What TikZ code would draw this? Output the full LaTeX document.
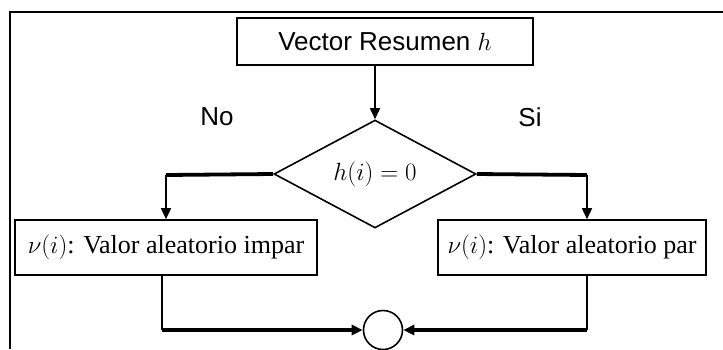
\documentclass[tikz,border=0pt]{standalone}
\usepackage{fontspec}
\setmainfont{Liberation Serif}
\newfontfamily\sansf{Liberation Sans}
\usetikzlibrary{arrows.meta,positioning,shapes.geometric,calc}

\begin{document}
\begin{tikzpicture}[
  x=1pt, y=-1pt,
  every node/.style={font=\fontsize{26}{30}\selectfont},
  box/.style={draw, line width=1.6pt, inner sep=0pt, minimum height=55pt},
  thin/.style={line width=1.6pt},
  heavy/.style={line width=3.8pt},
  >={Triangle[length=11pt,width=10pt]}
]
  \useasboundingbox (0,0) rectangle (723,349);

  % frame
  \draw[line width=2pt] (10,349) -- (10,12) -- (723,12);

  \node[box, minimum width=296pt, minimum height=47pt] (resumen) at (385,41.5)
    {\sansf Vector Resumen $h$};
  \node[draw, diamond, thin, inner sep=0pt, minimum width=202pt, minimum height=92pt]
    (cond) at (375,174) {$h(i)=0$};
  \node[box, minimum width=302pt] (impar) at (166,247.5)
    {$\nu(i)$: Valor aleatorio impar};
  \node[box, minimum width=268pt] (par) at (572,247.5)
    {$\nu(i)$: Valor aleatorio par};
  \node[draw, circle, thin, minimum size=39pt, inner sep=0pt] (join) at (383,330) {};

  \node[font=\sansf\fontsize{26}{30}\selectfont] (no) at (217,117) {No};
  \node[font=\sansf\fontsize{26}{30}\selectfont] (si) at (530,117) {Si};

  \coordinate (nocorner) at (166,175);
  \coordinate (sicorner) at (587,175);
  \coordinate (nobot) at (162,330);
  \coordinate (sibot) at (587,330);

  \draw[thin, ->] (resumen.south -| cond) -- (cond.north);
  \draw[heavy] (cond.west) -- (nocorner);
  \draw[thin, ->] (nocorner) -- (impar.north);
  \draw[heavy] (cond.east) -- (sicorner);
  \draw[thin, ->] (sicorner) -- (sicorner |- par.north);
  \draw[thin] (impar.south -| nobot) -- (nobot);
  \draw[heavy, ->] (nobot) -- (join.west);
  \draw[thin] (par.south -| sibot) -- (sibot);
  \draw[heavy, ->] (sibot) -- (join.east);
\end{tikzpicture}
\end{document}
